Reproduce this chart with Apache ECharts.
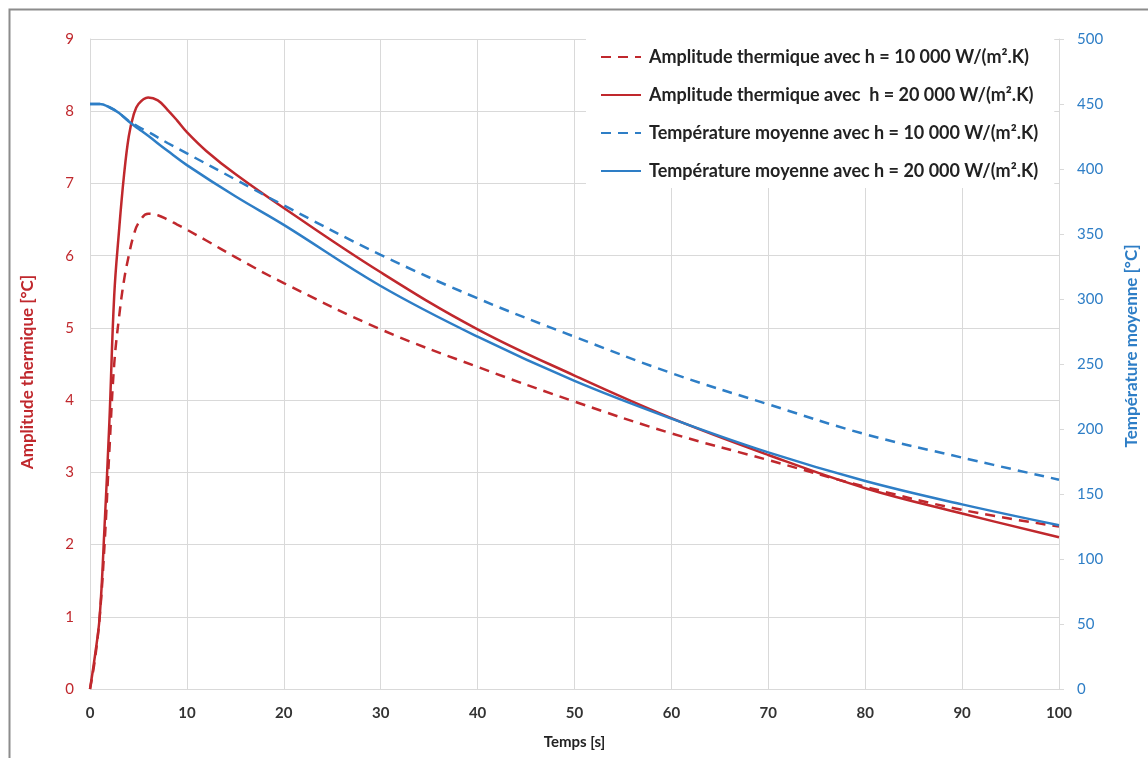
<!DOCTYPE html>
<html>
<head>
<meta charset="utf-8">
<script src="https://cdn.jsdelivr.net/npm/echarts@6/dist/echarts.min.js"></script>
<style>
  html, body { margin: 0; padding: 0; background: #fff; }
  #chart { width: 1148px; height: 758px; }
</style>
</head>
<body>
<div id="chart"></div>
<script>
// time samples (s) for the amplitude curves
const tAmp = [0, 0.5, 1, 1.5, 2, 2.5, 3, 3.5, 4, 4.5, 5, 6, 7, 8, 9, 10, 12, 15, 20, 30, 40, 50, 60, 70, 80, 90, 100]
// amplitude thermique [°C]
const amp10k = [0, 0.4, 1.0, 2.0, 3.3, 4.5, 5.15, 5.65, 6.0, 6.28, 6.45, 6.58, 6.56, 6.5, 6.43, 6.36, 6.21, 5.98, 5.62, 4.98, 4.46, 3.98, 3.54, 3.17, 2.8, 2.48, 2.25]
const amp20k = [0, 0.45, 1.0, 2.25, 3.7, 5.45, 6.35, 7.1, 7.65, 7.95, 8.1, 8.19, 8.15, 8.02, 7.87, 7.71, 7.45, 7.13, 6.66, 5.77, 4.98, 4.34, 3.75, 3.24, 2.78, 2.43, 2.1]

// time samples (s) for the mean temperature curves
const tMoy = [0, 1, 2, 3, 4, 5, 6, 8, 10, 15, 20, 30, 40, 50, 60, 70, 80, 90, 100]
// température moyenne [°C]
const moy10k = [450, 450, 447.5, 443, 437, 432.5, 428.5, 420, 412, 392, 372, 334, 300.5, 271, 243, 219, 196, 178, 161]
const moy20k = [450, 450, 447.5, 443, 436.5, 431, 425.5, 414, 403, 379, 357, 310, 271, 237, 208, 182, 160, 142, 126]

const xTicks = { min: 0, max: 100, interval: 10 }
const leftTicks = { min: 0, max: 9, interval: 1 }
const rightTicks = { min: 0, max: 500, interval: 50 }

const names = [
  'Amplitude thermique avec h = 10 000 W/(m².K)',
  'Amplitude thermique avec  h = 20 000 W/(m².K)',
  'Température moyenne avec h = 10 000 W/(m².K)',
  'Température moyenne avec h = 20 000 W/(m².K)'
]

const RED = '#C0282D'
const BLUE = '#2E7EC6'
const GRID = '#D9D9D9'
const FONT = 'Lato'

const pairs = (xs, ys) => xs.map((x, i) => [x, ys[i]])

const chart = echarts.init(document.getElementById('chart'), null, { renderer: 'canvas' })

chart.setOption({
  animation: false,
  backgroundColor: '#fff',
  textStyle: { fontFamily: FONT },
  grid: { left: 90, right: 88, top: 39, bottom: 69 },
  graphic: [
    {
      type: 'rect',
      left: 7,
      top: 7,
      shape: { width: 1200, height: 800 },
      style: { fill: 'none', stroke: '#8c8c8c', lineWidth: 2 },
      silent: true
    }
  ],
  legend: {
    orient: 'vertical',
    left: 586,
    top: 38,
    itemWidth: 40,
    itemHeight: 18,
    itemGap: 20,
    padding: [10, 16, 8, 14],
    backgroundColor: '#fff',
    itemStyle: { opacity: 0 },
    textStyle: { color: '#222', fontSize: 18, fontWeight: 'bold', fontFamily: FONT, padding: [0, 0, 0, 3] },
    data: names
  },
  xAxis: {
    type: 'value',
    ...xTicks,
    name: 'Temps [s]',
    nameLocation: 'middle',
    nameGap: 46,
    nameTextStyle: { color: '#222', fontSize: 15, fontWeight: 'bold' },
    axisLine: { lineStyle: { color: GRID } },
    axisTick: { show: false },
    axisLabel: { color: '#333', fontSize: 15, fontWeight: 'bold', margin: 17 },
    splitLine: { lineStyle: { color: GRID, width: 1 } }
  },
  yAxis: [
    {
      type: 'value',
      ...leftTicks,
      name: 'Amplitude thermique [°C]',
      nameLocation: 'middle',
      nameRotate: 90,
      nameGap: 54,
      nameTextStyle: { color: RED, fontSize: 17, fontWeight: 'bold', padding: [0, 16, 0, 0] },
      axisLine: { show: true, lineStyle: { color: GRID } },
      axisTick: { show: false },
      axisLabel: { color: RED, fontSize: 15, margin: 16 },
      splitLine: { lineStyle: { color: GRID, width: 1 } }
    },
    {
      type: 'value',
      ...rightTicks,
      position: 'right',
      name: 'Température moyenne [°C]',
      nameLocation: 'middle',
      nameRotate: 90,
      nameGap: 64,
      nameTextStyle: { color: BLUE, fontSize: 17, fontWeight: 'bold', padding: [0, 0, 0, 36] },
      axisLine: { show: true, lineStyle: { color: GRID } },
      axisTick: { show: true, length: 5, lineStyle: { color: GRID } },
      axisLabel: { color: BLUE, fontSize: 15, margin: 18 },
      splitLine: { show: false }
    }
  ],
  series: [
    {
      name: names[0],
      type: 'line',
      yAxisIndex: 0,
      smooth: 0.4,
      symbol: 'none',
      lineStyle: { color: RED, width: 2.5, type: [10, 7] },
      itemStyle: { color: RED },
      data: pairs(tAmp, amp10k)
    },
    {
      name: names[1],
      type: 'line',
      yAxisIndex: 0,
      smooth: 0.4,
      symbol: 'none',
      lineStyle: { color: RED, width: 2.5 },
      itemStyle: { color: RED },
      data: pairs(tAmp, amp20k)
    },
    {
      name: names[2],
      type: 'line',
      yAxisIndex: 1,
      smooth: 0.4,
      symbol: 'none',
      lineStyle: { color: BLUE, width: 2.5, type: [10, 7] },
      itemStyle: { color: BLUE },
      data: pairs(tMoy, moy10k)
    },
    {
      name: names[3],
      type: 'line',
      yAxisIndex: 1,
      smooth: 0.4,
      symbol: 'none',
      lineStyle: { color: BLUE, width: 2.5 },
      itemStyle: { color: BLUE },
      data: pairs(tMoy, moy20k)
    }
  ]
})

window.addEventListener('resize', () => chart.resize())
</script>
</body>
</html>
